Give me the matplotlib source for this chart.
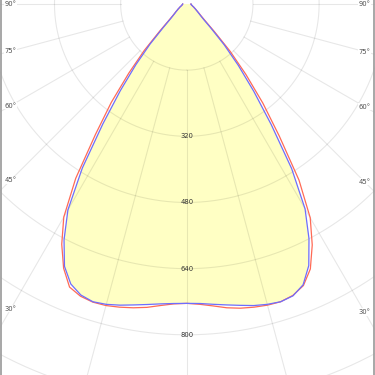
import numpy as np
import matplotlib
matplotlib.use("Agg")
import matplotlib.pyplot as plt
from matplotlib.lines import Line2D

# ---- data (luminous intensity, cd, vs gamma angle) ----
gamma = [0, 2.5, 5, 7.5, 10, 12.5, 15, 17.5, 20, 22.5, 25, 27.5, 30, 32.5, 35, 37.5,
         40, 42.5, 45, 47.5, 50, 52.5, 55, 57.5, 60, 62.5, 65, 67.5, 70, 72.5, 75,
         77.5, 80, 82.5, 85, 87.5, 90]
# red curve: C0 (right) / C180 (left)
c0 = [724, 727, 733, 741, 747, 751, 754, 755, 750, 737, 707, 657, 597, 505, 390, 302,
      222, 155, 94, 61, 46, 38, 32, 27, 24, 21, 19, 17, 15, 14, 13, 12, 11, 11, 10, 10, 10]
c180 = [724, 726, 732, 740, 746, 751, 755, 756, 752, 741, 705, 655, 595, 500, 385, 300,
        218, 152, 92, 60, 45, 37, 32, 27, 24, 21, 19, 17, 15, 14, 13, 12, 11, 11, 10, 10, 10]
# blue curve: C90 (right) / C270 (left)
c90 = [724, 725, 729, 734, 740, 747, 752, 755, 751, 735, 698, 640, 572, 472, 356, 266,
       194, 134, 83, 55, 43, 36, 31, 27, 24, 21, 19, 17, 15, 14, 13, 12, 11, 11, 10, 10, 10]
c270 = [724, 725, 728, 733, 739, 746, 752, 755, 749, 733, 700, 643, 575, 470, 354, 264,
        192, 132, 81, 55, 43, 36, 31, 27, 24, 21, 19, 17, 15, 14, 13, 12, 11, 11, 10, 10, 10]

ring_values = [160, 320, 480, 640, 800, 960, 1120]
ring_labels = [320, 480, 640, 800]
angle_labels = [90, 75, 60, 45, 30]

# ---- layout ----
W = H = 375
cx, cy = 186.8, 4.0          # pole position in pixels (from top-left)
scale = 0.4135               # pixels per cd
rmax = 1200
R = rmax * scale

fig = plt.figure(figsize=(3.75, 3.75), dpi=100)
fig.patch.set_facecolor("white")
ax = fig.add_axes([(cx - R) / W, (H - cy - R) / H, 2 * R / W, 2 * R / H], projection="polar")
ax.set_theta_zero_location("S")
ax.set_theta_direction(1)
ax.set_ylim(0, rmax)
ax.grid(False)
ax.set_xticks([])
ax.set_yticks([])
ax.spines["polar"].set_visible(False)
ax.set_facecolor("white")

g = np.radians(np.array(gamma))

def both_sides(right, left):
    th = np.concatenate([-g[::-1], g[1:]])
    r = np.concatenate([np.array(left)[::-1], np.array(right)[1:]])
    return th, r

red_t, red_r = both_sides(c0, c180)
blue_t, blue_r = both_sides(c90, c270)

# fill under the blue curve
ax.fill(blue_t, blue_r, color="#ffffc4", lw=0, zorder=1)

# grid
grid_kw = dict(color="black", alpha=0.095, lw=0.8, zorder=2)
circ = np.linspace(0, 2 * np.pi, 721)
for rv in ring_values:
    ax.plot(circ, np.full_like(circ, rv), **grid_kw)
for a in range(0, 360, 15):
    ax.plot([np.radians(a)] * 2, [ring_values[0], rmax], **grid_kw)

# curves
ax.plot(red_t, red_r, color="#ff6a55", lw=0.9, zorder=3, solid_joinstyle="round")
ax.plot(blue_t, blue_r, color="#6d6dff", lw=0.9, zorder=3, solid_joinstyle="round")

# radial value labels
for v in ring_labels:
    ax.text(0, v, str(v), ha="center", va="center", fontsize=4.9, color="#333333", zorder=4)

# angle labels at the left and right edges
for a in angle_labels:
    s = np.sin(np.radians(a))
    rl = (cx - 10.8) / s / scale
    rr = (364.6 - cx) / s / scale
    for th, rv in ((-np.radians(a), rl), (np.radians(a), rr)):
        ax.text(th, rv, f"{a}°", ha="center", va="center", fontsize=4.9, color="#505050",
                zorder=4, bbox=dict(facecolor="white", edgecolor="none", pad=0.4))

# frame lines at left/right edges
for xp in (1.0, 373.5):
    fig.add_artist(Line2D([xp / W, xp / W], [0, 1], transform=fig.transFigure,
                          color="#a0a0a0", lw=1.3))

fig.savefig("out.png", dpi=100)
